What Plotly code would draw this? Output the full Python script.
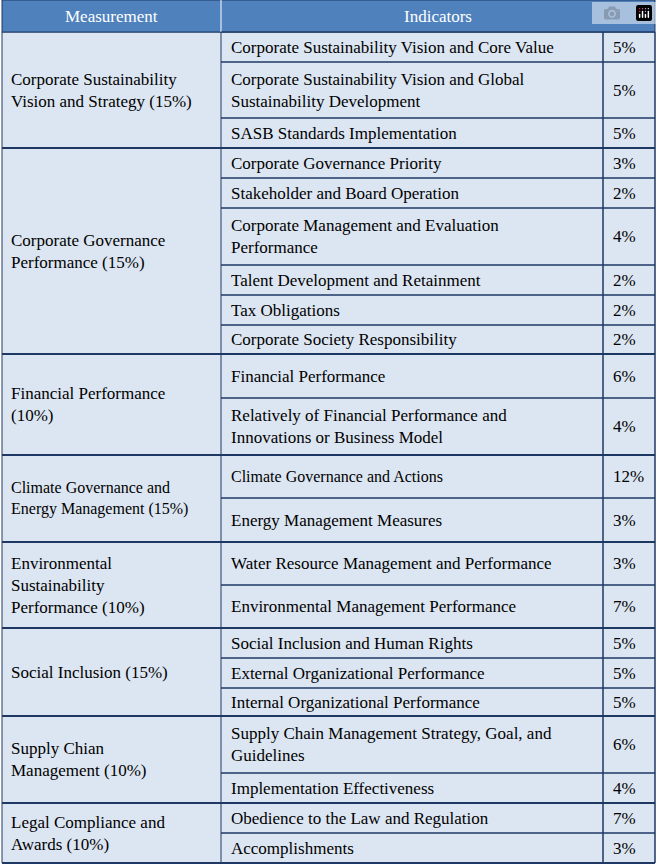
import plotly.graph_objects as go

header = ["Measurement", "Indicators"]

groups = [
    "Corporate Sustainability<br>Vision and Strategy (15%)",
    "Corporate Governance<br>Performance (15%)",
    "Financial Performance<br>(10%)",
    "Climate Governance and<br>Energy Management (15%)",
    "Environmental<br>Sustainability<br>Performance (10%)",
    "Social Inclusion (15%)",
    "Supply Chian<br>Management (10%)",
    "Legal Compliance and<br>Awards (10%)",
]

indicators = [
    ["Corporate Sustainability Vision and Core Value",
     "Corporate Sustainability Vision and Global<br>Sustainability Development",
     "SASB Standards Implementation"],
    ["Corporate Governance Priority",
     "Stakeholder and Board Operation",
     "Corporate Management and Evaluation<br>Performance",
     "Talent Development and Retainment",
     "Tax Obligations",
     "Corporate Society Responsibility"],
    ["Financial Performance",
     "Relatively of Financial Performance and<br>Innovations or Business Model"],
    ["Climate Governance and Actions",
     "Energy Management Measures"],
    ["Water Resource Management and Performance",
     "Environmental Management Performance"],
    ["Social Inclusion and Human Rights",
     "External Organizational Performance",
     "Internal Organizational Performance"],
    ["Supply Chain Management Strategy, Goal, and<br>Guidelines",
     "Implementation Effectiveness"],
    ["Obedience to the Law and Regulation",
     "Accomplishments"],
]

weights = [
    ["5%", "5%", "5%"],
    ["3%", "2%", "4%", "2%", "2%", "2%"],
    ["6%", "4%"],
    ["12%", "3%"],
    ["3%", "7%"],
    ["5%", "5%", "5%"],
    ["6%", "4%"],
    ["7%", "3%"],
]

# layout (pixel geometry)
row_h = [
    [30, 56, 30],
    [30, 30, 57, 30, 30, 29],
    [44, 57],
    [43, 44],
    [43, 43],
    [30, 30, 28],
    [57, 30],
    [30, 30],
]
col_x = [2, 221, 603, 655]
header_h = 32
W, H = 658, 867
BORDER = "#1f3864"
HEAD_BG = "#4f81bd"
CELL_BG = "#dce6f2"
FONT = "Liberation Serif, Times New Roman, serif"

fig = go.Figure()
shapes, annots = [], []

shapes.append(dict(type="rect", x0=col_x[0], x1=col_x[3], y0=0, y1=header_h,
                   fillcolor=HEAD_BG, line=dict(color=BORDER, width=1)))
for txt, xa, xb in [(header[0], col_x[0], col_x[1]), (header[1], col_x[1], col_x[3])]:
    annots.append(dict(x=(xa + xb) / 2, y=header_h / 2, text=txt, showarrow=False,
                       font=dict(family=FONT, size=17, color="white")))
shapes.append(dict(type="line", x0=col_x[1], x1=col_x[1], y0=0, y1=header_h,
                   line=dict(color="white", width=1)))

y = header_h
for gi, g in enumerate(groups):
    gh = sum(row_h[gi])
    small = gi == 3
    shapes.append(dict(type="rect", x0=col_x[0], x1=col_x[3], y0=y, y1=y + gh,
                       fillcolor=CELL_BG, line=dict(color=BORDER, width=1), layer="below"))
    annots.append(dict(x=col_x[0] + 7, y=y + gh / 2, text=g, showarrow=False,
                       xanchor="left", align="left",
                       font=dict(family=FONT, size=16 if small else 17, color="black")))
    ry = y
    for ri, (ind, w) in enumerate(zip(indicators[gi], weights[gi])):
        h = row_h[gi][ri]
        shapes.append(dict(type="rect", x0=col_x[1], x1=col_x[2], y0=ry, y1=ry + h,
                           line=dict(color=BORDER, width=1)))
        shapes.append(dict(type="rect", x0=col_x[2], x1=col_x[3], y0=ry, y1=ry + h,
                           line=dict(color=BORDER, width=1)))
        annots.append(dict(x=col_x[1] + 8, y=ry + h / 2, text=ind, showarrow=False,
                           xanchor="left", align="left",
                           font=dict(family=FONT, size=16 if (small and ri == 0) else 17,
                                     color="black")))
        annots.append(dict(x=col_x[2] + 8, y=ry + h / 2, text=w, showarrow=False,
                           xanchor="left",
                           font=dict(family=FONT, size=17, color="black")))
        ry += h
    shapes.append(dict(type="line", x0=col_x[0], x1=col_x[3], y0=y + gh, y1=y + gh,
                       line=dict(color=BORDER, width=2)))
    y += gh

fig.update_layout(
    width=W, height=H, margin=dict(l=0, r=0, t=0, b=0),
    plot_bgcolor="white", paper_bgcolor="white",
    xaxis=dict(range=[0, W], visible=False, fixedrange=True),
    yaxis=dict(range=[H, 0], visible=False, fixedrange=True),
    shapes=shapes, annotations=annots, showlegend=False,
)
fig.write_html("out.html")

# drop the default page margin so the figure fills the window
with open("out.html", encoding="utf-8") as f:
    page = f.read()
page = page.replace("<head>", "<head><style>html,body{margin:0;padding:0;overflow:hidden;}</style>", 1)
with open("out.html", "w", encoding="utf-8") as f:
    f.write(page)
